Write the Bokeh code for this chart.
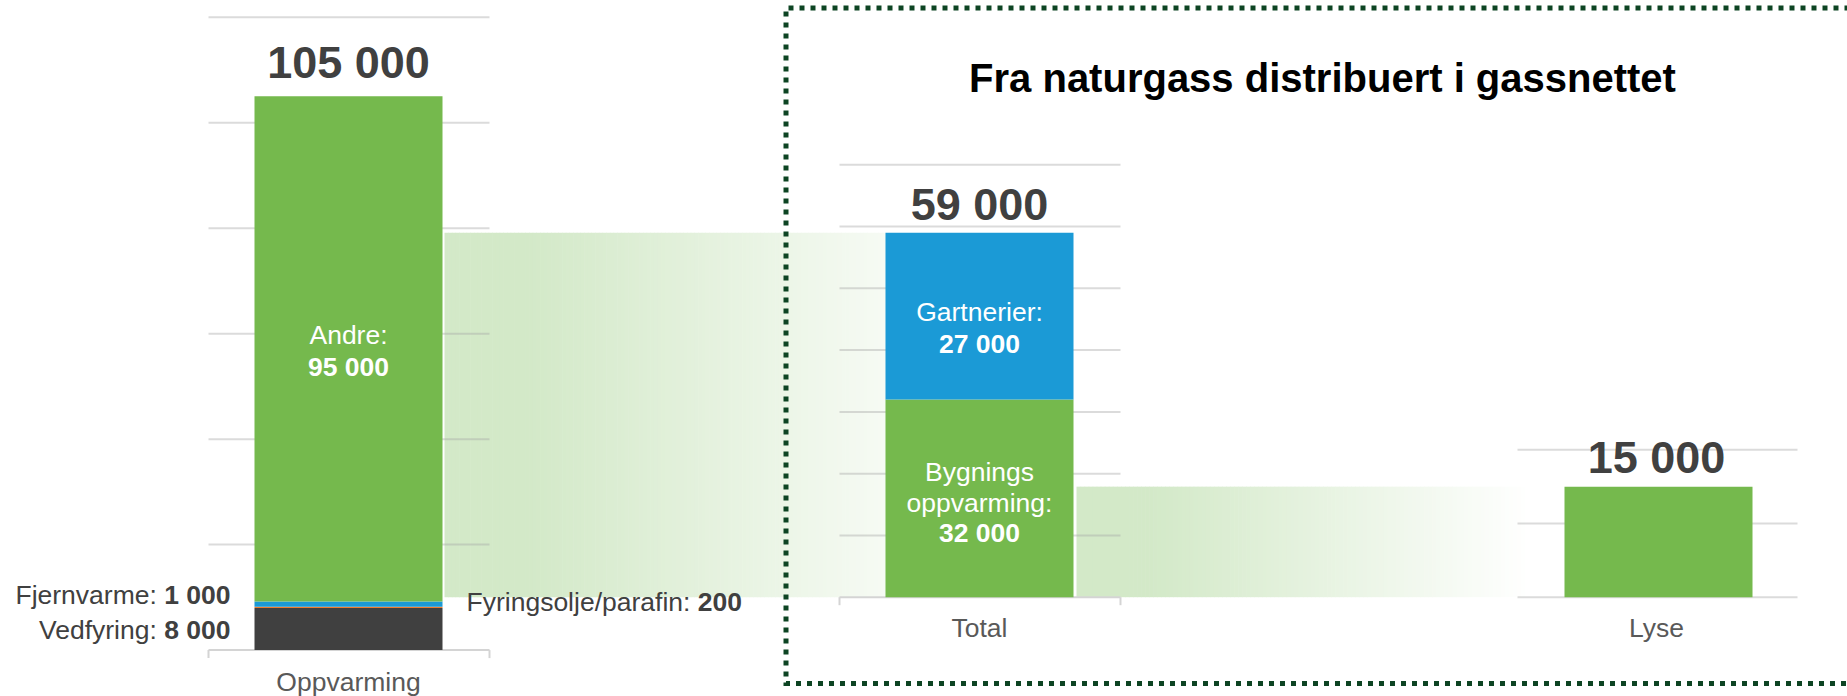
import numpy as np
from bokeh.plotting import figure
from bokeh.models import Range1d
from bokeh.core.properties import value
from bokeh.embed import file_html
from bokeh.resources import INLINE

# ---------------- data ----------------
categories = ["Oppvarming", "Total", "Lyse"]

opp_names = ["Vedfyring", "Fyringsolje/parafin", "Fjernvarme", "Andre"]
opp_values = [8000, 200, 1000, 95800]
opp_value_labels = ["8 000", "200", "1 000", "95 000"]
opp_total_label = "105 000"

tot_names = ["Bygnings oppvarming", "Gartnerier"]
tot_values = [32000, 27000]
tot_value_labels = ["32 000", "27 000"]
tot_total_label = "59 000"

lyse_values = [15000]
lyse_total_label = "15 000"

opp_grid = [20000, 40000, 60000, 80000, 100000, 120000]
tot_grid = [10000, 20000, 30000, 40000, 50000, 60000, 70000]
lyse_grid = [0, 10000, 20000]

title = "Fra naturgass distribuert i gassnettet"

# ---------------- style ----------------
FONT = value("Liberation Sans")
GREEN = "#75b94d"
BLUE = "#1b9ad6"
DARK = "#404040"
ORANGE = "#ed7d31"
BAND = (211, 233, 200)
GRID = "#a6a6a6"
AXIS = "#d4d4d4"
BOX = "#0d4423"

W, H = 1847, 696

p = figure(width=W, height=H, x_range=Range1d(0, W), y_range=Range1d(H, 0),
           x_axis_type=None, y_axis_type=None, output_backend="svg",
           toolbar_location=None, min_border=0, outline_line_color=None)
p.background_fill_color = "white"
p.border_fill_color = "white"

# value scales: (screen y of zero, screen y of top gridline, top gridline value)
SCALES = {
    "opp": (649.6, 16.7, opp_grid[-1]),
    "tot": (596.7, 164.3, tot_grid[-1]),
    "lys": (596.7, 449.3, lyse_grid[-1]),
}


def k_of(name):
    z, t, v = SCALES[name]
    return (z - t) / v


def to_screen(name, v):
    return SCALES[name][0] - v * k_of(name)


p.extra_y_ranges = {
    n: Range1d(start=(SCALES[n][0] - H) / k_of(n), end=SCALES[n][0] / k_of(n)) for n in SCALES
}

# chart horizontal layout (screen px)
c1 = dict(x=348, g0=208, g1=489)
c2 = dict(x=979, g0=839, g1=1120)
c3 = dict(x=1658, g0=1517, g1=1797)
BW = 188


def band(x0, x1, fade0, fade1, fmax, top, rname):
    edges = np.linspace(x0, x1, 121)
    mid = (edges[:-1] + edges[1:]) / 2
    f = np.clip((mid - fade0) / (fade1 - fade0), 0, 1) * fmax
    cols = ["#%02x%02x%02x" % tuple(int(round(c + fi * (255 - c))) for c in BAND) for fi in f]
    n = len(mid)
    p.quad(left=edges[:-1], right=edges[1:] + 0.6, bottom=[0] * n, top=[top] * n,
           fill_color=cols, line_color=None, y_range_name=rname)


# gradient connector bands
band(444, c2["x"] - BW / 2, 530, c2["x"] - BW / 2, 0.8, sum(tot_values), "tot")
band(c2["x"] + BW / 2 + 3, c3["x"] - BW / 2 - 3, 1150, 1530, 1.0, lyse_values[0], "lys")


# gridlines
def grid(vals, c, rname):
    p.segment(x0=[c["g0"]] * len(vals), x1=[c["g1"]] * len(vals), y0=vals, y1=vals,
              line_color=GRID, line_alpha=0.4, line_width=2, y_range_name=rname)


grid(opp_grid, c1, "opp")
grid(tot_grid, c2, "tot")
grid(lyse_grid, c3, "lys")

# axis lines with end ticks
for c, rname in ((c1, "opp"), (c2, "tot")):
    ay = to_screen(rname, 0)
    p.segment(x0=[c["g0"]], x1=[c["g1"]], y0=[0], y1=[0], line_color=AXIS, line_width=2,
              y_range_name=rname)
    p.segment(x0=[c["g0"], c["g1"]], x1=[c["g0"], c["g1"]], y0=[ay, ay], y1=[ay + 8, ay + 8],
              line_color=AXIS, line_width=2)

# bars
opp_cols = [DARK, ORANGE, BLUE, GREEN]
b = np.concatenate([[0], np.cumsum(opp_values)[:-1]])
t = np.cumsum(opp_values)
p.vbar(x=[c1["x"]] * 4, width=BW, bottom=b, top=t, fill_color=opp_cols, line_color=None,
       y_range_name="opp")

b2 = np.concatenate([[0], np.cumsum(tot_values)[:-1]])
t2 = np.cumsum(tot_values)
p.vbar(x=[c2["x"]] * 2, width=BW, bottom=b2, top=t2, fill_color=[GREEN, BLUE], line_color=None,
       y_range_name="tot")

p.vbar(x=[c3["x"]], width=BW, bottom=[0], top=lyse_values, fill_color=GREEN, line_color=None,
       y_range_name="lys")


def txt(x, y, s, bold=False, color="white", align="center", size=26.5):
    # y is the vertical centre of the capitals
    p.text(x=[x], y=[y], text=[s], text_font=FONT, text_font_size=value(f"{size}px"),
           text_font_style="bold" if bold else "normal", text_color=color,
           text_align=align, text_baseline="middle")


# total labels above bars (gap between bar top and label centre)
for cx, tot, lab, rname, gap in ((c1["x"], sum(opp_values), opp_total_label, "opp", 34),
                                 (c2["x"], sum(tot_values), tot_total_label, "tot", 28),
                                 (1656, lyse_values[0], lyse_total_label, "lys", 29)):
    txt(cx, to_screen(rname, tot) - gap, lab, bold=True, color=DARK, size=45)

# title
txt(1322, 77, title, bold=True, color="black", size=40)

FS = 26.5

# labels inside bars
txt(c1["x"], 334, opp_names[3] + ":")
txt(c1["x"], 366.5, opp_value_labels[3], bold=True)
txt(c2["x"], 311, tot_names[1] + ":")
txt(c2["x"], 343, tot_value_labels[1], bold=True)
txt(c2["x"], 471.5, "Bygnings")
txt(c2["x"], 502, "oppvarming:")
txt(c2["x"], 532.5, tot_value_labels[0], bold=True)

# side labels (regular name + bold value)
LBL = "#404040"
bold_w = lambda s: sum(0.278 if ch == " " else 0.556 for ch in s) * FS
for idx, yc in ((2, 594.5), (0, 629.5)):
    val = opp_value_labels[idx]
    txt(230, yc, val, bold=True, color=LBL, align="right")
    txt(230 - bold_w(val) - 0.278 * FS, yc, opp_names[idx] + ":", color=LBL, align="right")

txt(466, 601.5, opp_names[1] + ":", color=LBL, align="left")
txt(466 + 8.725 * FS, 601.5, opp_value_labels[1], bold=True, color=LBL, align="left")

# category labels
CAT = "#595959"
txt(c1["x"], 681, categories[0], color=CAT)
txt(c2["x"], 627.5, categories[1], color=CAT)
txt(1656, 627.5, categories[2], color=CAT)

# dotted frame
p.line(x=[1860, 785.5, 785.5, 1860], y=[7.5, 7.5, 683, 683], line_color=BOX, line_width=5,
       line_dash="5 6", line_cap="butt", line_join="miter")

open("out.html", "w").write(file_html(p, INLINE))
